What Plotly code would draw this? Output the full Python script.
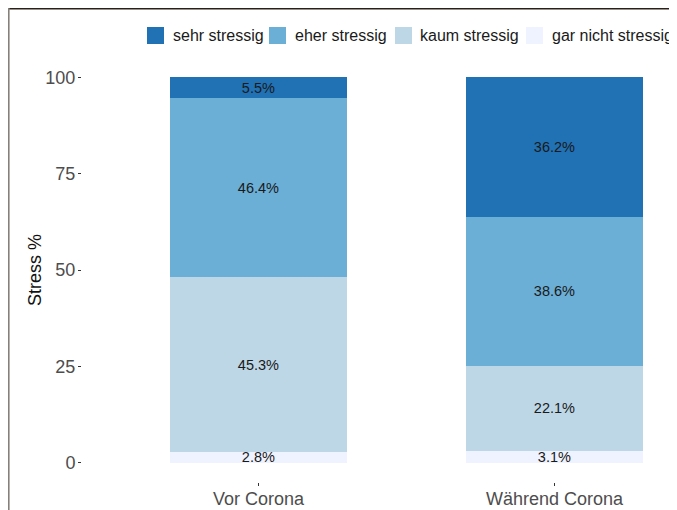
import plotly.graph_objects as go

# ---- data ----
categories = ["Vor Corona", "Während Corona"]
levels = ["sehr stressig", "eher stressig", "kaum stressig", "gar nicht stressig"]
sehr_stressig = [5.5, 36.2]
eher_stressig = [46.4, 38.6]
kaum_stressig = [45.3, 22.1]
gar_nicht_stressig = [2.8, 3.1]
y_ticks = [0, 25, 50, 75, 100]
y_title = "Stress %"

colors = {
    "sehr stressig": "#2171b5",
    "eher stressig": "#6baed6",
    "kaum stressig": "#bdd7e7",
    "gar nicht stressig": "#eff3ff",
}
series = {
    "sehr stressig": sehr_stressig,
    "eher stressig": eher_stressig,
    "kaum stressig": kaum_stressig,
    "gar nicht stressig": gar_nicht_stressig,
}

# page is offset by the browser's default 8px body margin
OFF = 8
W, H = 677 - OFF, 510 - OFF
ML, MR, MT, MB = 82 - OFF, 0, 58 - OFF, 28
PW, PH = W - ML - MR, H - MT - MB
FONT = "Liberation Sans, Arial, sans-serif"


def px_x(px):
    """page pixel x -> paper x"""
    return (px - OFF - ML) / PW


def px_y(py):
    """page pixel y -> paper y"""
    return (H - MB - (py - OFF)) / PH


fig = go.Figure()
# stack bottom-first
for name in reversed(levels):
    vals = series[name]
    fig.add_trace(go.Bar(
        x=categories,
        y=vals,
        name=name,
        width=0.6,
        marker=dict(color=colors[name], line=dict(width=0)),
        text=[f"{v:.1f}%" for v in vals],
        textposition="inside",
        insidetextanchor="middle",
        constraintext="none",
        textangle=0,
        textfont=dict(family=FONT, size=14.5, color="#1a1a1a"),
        showlegend=False,
        hoverinfo="x+y+name",
    ))

shapes = []
annotations = []

# manual legend (ggplot-style compact keys)
legend_swatch_x = [147, 269, 395, 526]
legend_text_x = [171, 293, 418, 550]
leg_cy = 35.5
for name, sx, tx in zip(levels, legend_swatch_x, legend_text_x):
    shapes.append(dict(
        type="rect", xref="paper", yref="paper",
        x0=px_x(sx), x1=px_x(sx + 17),
        y0=px_y(leg_cy + 8.5), y1=px_y(leg_cy - 8.5),
        fillcolor=colors[name], line=dict(width=0), layer="above",
    ))
    annotations.append(dict(
        xref="paper", yref="paper", x=px_x(tx), y=px_y(leg_cy),
        xanchor="left", yanchor="middle", showarrow=False,
        text=name, font=dict(family=FONT, size=16, color="#1a1a1a"),
    ))

# y-axis title
annotations.append(dict(
    xref="paper", yref="paper", x=px_x(35), y=0.5,
    xanchor="center", yanchor="middle", showarrow=False, textangle=-90,
    text=y_title, font=dict(family=FONT, size=18, color="#111111"),
))

# frame lines (top and left border of the original figure)
shapes.append(dict(type="line", xref="paper", yref="paper",
                   x0=px_x(OFF), x1=px_x(677 + 2), y0=px_y(OFF + 0.7), y1=px_y(OFF + 0.7),
                   line=dict(color="#2a2018", width=1.5)))
shapes.append(dict(type="line", xref="paper", yref="paper",
                   x0=px_x(OFF + 0.8), x1=px_x(OFF + 0.8), y0=px_y(OFF), y1=px_y(512),
                   line=dict(color="#85807b", width=1.6)))

fig.update_layout(
    width=W, height=H,
    margin=dict(l=ML, r=MR, t=MT, b=MB),
    barmode="stack",
    plot_bgcolor="white",
    paper_bgcolor="white",
    font=dict(family=FONT),
    showlegend=False,
    shapes=shapes,
    annotations=annotations,
)
fig.update_xaxes(
    range=[-0.596, 1.414],
    showgrid=False, zeroline=False, showline=False,
    ticks="outside", ticklen=3, tickwidth=1, tickcolor="#333333",
    ticklabelstandoff=-3,
    tickfont=dict(family=FONT, size=18, color="#4d4d4d"),
)
fig.update_yaxes(
    range=[-5, 105],
    tickvals=y_ticks,
    showgrid=False, zeroline=False, showline=False,
    ticks="outside", ticklen=3, tickwidth=1, tickcolor="#333333",
    ticklabelstandoff=-1,
    tickfont=dict(family=FONT, size=18, color="#4d4d4d"),
)

fig.write_html("out.html")
